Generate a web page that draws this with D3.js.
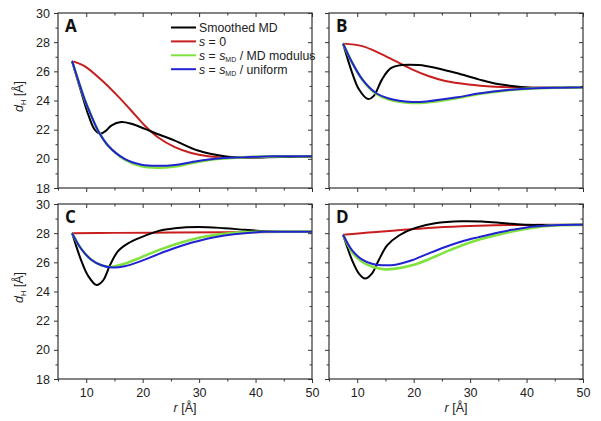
<!DOCTYPE html>
<html><head><meta charset="utf-8">
<script src="https://cdn.jsdelivr.net/npm/d3@7/dist/d3.min.js"></script>
<style>body{margin:0;background:#fff}svg{display:block}text{font-family:"Liberation Sans",Arial,sans-serif}</style>
</head><body><svg id="c" width="601" height="421"></svg>
<script>
const yTicks = [18,20,22,24,26,28,30];
const xTicks = [10,20,30,40,50];
const seriesNames = ["Smoothed MD","s = 0","s = sMD / MD modulus","s = sMD / uniform"];
const colors = ["#000000","#c81e1e","#80e23c","#2222d2"];

// Panel A
const A_black = [[7.5,26.7],[9.1,24.6],[10.3,23.1],[11.5,22.0],[12.5,21.72],[13.4,21.9],[14.5,22.3],[16.2,22.52],[18,22.4],[20.4,22.05],[23,21.65],[25.7,21.25],[29.8,20.57],[34.5,20.18],[38.1,20.09],[42,20.1],[46,20.13],[50,20.15]];
const A_red = [[7.5,26.7],[9.7,26.36],[12.7,25.4],[15.6,24.3],[18.0,23.3],[20.4,22.27],[22.7,21.48],[25.7,20.8],[28.6,20.4],[31.6,20.18],[35.7,20.07],[40.4,20.11],[45,20.14],[50,20.15]];
const A_green = [[7.5,26.7],[9.7,24.1],[10.9,22.95],[12.1,21.93],[13.9,20.88],[16.8,19.95],[19.8,19.5],[22.5,19.4],[25.7,19.48],[28.6,19.7],[32.8,19.97],[37.5,20.1],[43.4,20.17],[50,20.17]];
const A_blue = [[7.5,26.7],[9.7,24.1],[10.9,22.95],[12.1,21.93],[13.9,20.9],[16.8,20.0],[19.8,19.6],[22.7,19.52],[25.7,19.58],[28.6,19.77],[32.8,20.0],[37.5,20.1],[43.4,20.17],[50,20.17]];
// Panel B
const B_black = [[7.5,27.9],[9.1,25.9],[10.3,24.77],[11.9,24.1],[12.9,24.3],[14.4,25.45],[15.9,26.2],[17.9,26.43],[20.9,26.43],[23.8,26.25],[27.4,25.9],[31.5,25.45],[34.4,25.16],[37.4,25.0],[40.3,24.9],[45,24.88],[50,24.9]];
const B_red = [[7.5,27.9],[10.9,27.73],[13.8,27.27],[16.8,26.7],[19.7,26.14],[22.6,25.68],[25.6,25.34],[29.7,25.1],[34.4,24.95],[38.5,24.89],[42,24.87],[46,24.88],[50,24.9]];
const B_green = [[7.5,27.9],[9.1,26.6],[10.9,25.42],[13.2,24.5],[15.6,24.07],[19.7,23.83],[22.6,23.88],[27.4,24.14],[31.5,24.44],[36.2,24.68],[41.5,24.83],[46,24.88],[50,24.9]];
const B_blue = [[7.5,27.9],[9.1,26.6],[10.9,25.45],[13.2,24.55],[15.6,24.14],[19.7,23.9],[22.6,23.95],[27.4,24.2],[31.5,24.48],[36.2,24.7],[41.5,24.84],[46,24.88],[50,24.9]];
// Panel C
const C_black = [[7.5,28.0],[9.1,26.14],[10.3,25.1],[11.8,24.45],[13.0,24.77],[14.2,25.8],[15.6,26.75],[17.4,27.3],[19.8,27.73],[22.7,28.14],[25.7,28.34],[29.8,28.43],[34.5,28.34],[38.1,28.23],[41.6,28.14],[45,28.1],[50,28.1]];
const C_red = [[7.5,28.0],[15,28.02],[25,28.04],[35,28.06],[45,28.08],[50,28.08]];
const C_green = [[7.5,28.0],[9.1,26.93],[10.9,26.18],[12.7,25.8],[14.2,25.68],[16.8,25.9],[19.8,26.36],[22.7,26.82],[25.7,27.23],[28.6,27.55],[31.6,27.8],[34.5,27.95],[38.1,28.07],[43,28.1],[50,28.1]];
const C_blue = [[7.5,28.0],[9.1,26.93],[10.9,26.18],[12.7,25.8],[14.7,25.64],[16.8,25.73],[19.8,26.1],[22.7,26.55],[25.7,26.98],[28.6,27.34],[31.6,27.64],[34.5,27.84],[38.1,28.0],[41.6,28.09],[46,28.1],[50,28.1]];
// Panel D
const D_black = [[7.5,27.89],[9.1,26.14],[10.3,25.23],[11.4,24.89],[12.6,25.23],[13.8,26.14],[15.3,27.16],[17.4,27.84],[20.3,28.36],[23.8,28.68],[28.5,28.82],[32.1,28.8],[36.2,28.68],[40.3,28.57],[45,28.56],[50,28.57]];
const D_red = [[7.5,27.89],[12,28.04],[16.8,28.18],[22.6,28.36],[28.5,28.48],[34.4,28.55],[42,28.57],[50,28.57]];
const D_green = [[7.5,27.89],[9.1,26.7],[10.9,26.02],[13.2,25.64],[15.0,25.52],[16.8,25.57],[19.7,25.8],[22.6,26.2],[25.6,26.7],[28.5,27.16],[31.5,27.55],[34.4,27.84],[37.4,28.11],[40.3,28.32],[43.2,28.48],[46,28.55],[50,28.57]];
const D_blue = [[7.5,27.89],[9.1,26.82],[10.9,26.18],[12.6,25.9],[14.4,25.8],[16.8,25.84],[19.7,26.14],[22.6,26.6],[25.6,27.05],[28.5,27.43],[31.5,27.73],[34.4,28.0],[37.4,28.23],[40.3,28.41],[43.2,28.5],[46,28.56],[50,28.57]];

const panels = [
  {label:"A", x0:58, y0:13, series:[A_black,A_red,A_green,A_blue], yLab:true, xLab:false, legend:true},
  {label:"B", x0:329, y0:13, series:[B_black,B_red,B_green,B_blue], yLab:false, xLab:false},
  {label:"C", x0:58, y0:204, series:[C_black,C_red,C_green,C_blue], yLab:true, xLab:true},
  {label:"D", x0:329, y0:204, series:[D_black,D_red,D_green,D_blue], yLab:false, xLab:true}
];
const W = 254, H = 175;
const svg = d3.select("#c");
const axisCol = "#333";

panels.forEach(p => {
  const g = svg.append("g").attr("transform", `translate(${p.x0},${p.y0})`);
  const x = d3.scaleLinear().domain([5,50]).range([0,W]);
  const y = d3.scaleLinear().domain([18,30]).range([H,0]);
  const line = d3.line().x(d=>x(d[0])).y(d=>y(d[1])).curve(d3.curveCatmullRom.alpha(0.5));
  const order = [1,0,2,3];
  order.forEach(i => {
    g.append("path").attr("d", line(p.series[i])).attr("fill","none")
      .attr("stroke", colors[i]).attr("stroke-width", i===2?2.6:2);
  });
  const yMinor = d3.range(19,30,2);
  const xMinor = d3.range(15,50,10);
  const left = g.append("g").call(d3.axisLeft(y).tickValues(yTicks).tickSize(4).tickSizeOuter(0).tickFormat(p.yLab?d3.format("d"):""));
  left.append("g").call(d3.axisLeft(y).tickValues(yMinor).tickSize(2.5).tickFormat(""));
  const right = g.append("g").attr("transform",`translate(${W},0)`).call(d3.axisLeft(y).tickValues(yTicks).tickSize(4).tickSizeOuter(0).tickFormat(""));
  right.append("g").call(d3.axisLeft(y).tickValues(yMinor).tickSize(2.5).tickFormat(""));
  const bottom = g.append("g").attr("transform",`translate(0,${H})`).call(d3.axisBottom(x).tickValues(xTicks).tickSize(4).tickSizeOuter(0).tickFormat(p.xLab?d3.format("d"):""));
  bottom.append("g").call(d3.axisBottom(x).tickValues(xMinor.concat([5])).tickSize(2.5).tickFormat(""));
  const top = g.append("g").call(d3.axisBottom(x).tickValues(xTicks).tickSize(4).tickSizeOuter(0).tickFormat(""));
  top.append("g").call(d3.axisBottom(x).tickValues(xMinor).tickSize(2.5).tickFormat(""));
  [left,right,bottom,top].forEach(a=>{
    a.selectAll("path").attr("stroke","none");
    a.selectAll("line").attr("stroke",axisCol);
    a.selectAll("text").attr("fill","#222").style("font-size","12.5px").style("font-family","'Liberation Sans',Arial,sans-serif");
  });
  left.selectAll("text").attr("dx","-1");
  bottom.selectAll("text").attr("dy","0.85em");
  g.append("rect").attr("width",W).attr("height",H).attr("fill","none").attr("stroke",axisCol).attr("stroke-width",1.2);
  g.append("text").attr("x",7).attr("y",19).text(p.label)
    .style("font-family","'Open Sans','DejaVu Sans',sans-serif").style("font-weight","700").style("font-size","17px").attr("fill","#111");
  if (p.yLab) {
    const t = g.append("text").attr("transform",`translate(${-35},${H/2-4}) rotate(-90)`).attr("text-anchor","middle")
      .style("font-size","12.5px").attr("fill","#222");
    t.append("tspan").style("font-style","italic").text("d");
    t.append("tspan").attr("dy",3).style("font-size","7.5px").text("H");
    t.append("tspan").attr("dy",-3).text(" [Å]");
  }
  if (p.xLab) {
    const t = g.append("text").attr("x",x(27.5)).attr("y",H+33).attr("text-anchor","middle")
      .style("font-size","12.5px").attr("fill","#222");
    t.append("tspan").style("font-style","italic").text("r");
    t.append("tspan").text(" [Å]");
  }
  if (p.legend) {
    const lg = g.append("g").attr("transform","translate(113,14.5)");
    seriesNames.forEach((n,i)=>{
      const row = lg.append("g").attr("transform",`translate(0,${i*13.9})`);
      row.append("line").attr("x1",0).attr("x2",25).attr("y1",0).attr("y2",0).attr("stroke",colors[i]).attr("stroke-width",2);
      const t = row.append("text").attr("x",28).attr("y",4.3).style("font-size","12.3px").attr("fill","#222");
      if (i===0) t.text(n);
      else if (i===1) { t.append("tspan").style("font-style","italic").text("s"); t.append("tspan").text(" = 0"); }
      else {
        t.append("tspan").style("font-style","italic").text("s");
        t.append("tspan").text(" = ");
        t.append("tspan").style("font-style","italic").text("s");
        t.append("tspan").attr("dy",2.5).style("font-size","7px").text("MD");
        t.append("tspan").attr("dy",-2.5).text(i===2?" / MD modulus":" / uniform");
      }
    });
  }
});
</script></body></html>
